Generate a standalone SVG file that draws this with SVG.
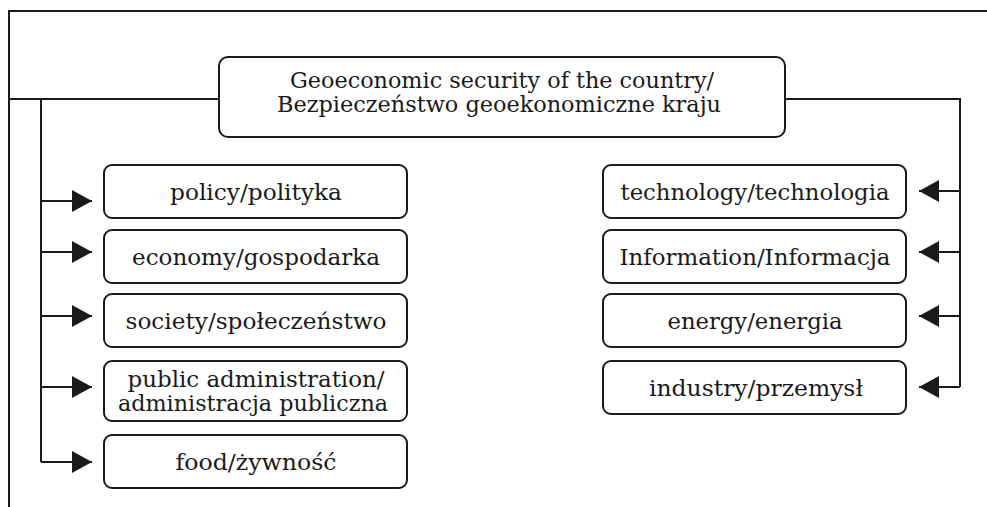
<svg xmlns="http://www.w3.org/2000/svg" width="987" height="507" viewBox="0 0 987 507">
<defs>
<style>
.box{fill:#fff;stroke:#1a1a1a;stroke-width:2}
.ln{fill:none;stroke:#1a1a1a;stroke-width:2}
.t{font-family:"DejaVu Serif","Liberation Serif",serif;font-size:22px;fill:#1a1a1a;text-anchor:middle}
</style>
<marker id="ah" markerUnits="userSpaceOnUse" markerWidth="20" markerHeight="22" refX="20" refY="11" orient="auto" viewBox="0 0 20 22">
<path d="M0,0 L20,11 L0,22 z" fill="#1a1a1a"/>
</marker>
</defs>
<rect width="987" height="507" fill="#fff"/>
<g id="connectors">
<path class="ln" d="M987,11 H9 V507"/>
<path class="ln" d="M9,99 H219"/>
<path class="ln" d="M785,99 H960 V387"/>
<path class="ln" d="M41,99 V462"/>
<path class="ln" d="M41,201 H92" marker-end="url(#ah)"/>
<path class="ln" d="M41,252 H92" marker-end="url(#ah)"/>
<path class="ln" d="M41,316 H92" marker-end="url(#ah)"/>
<path class="ln" d="M41,387 H92" marker-end="url(#ah)"/>
<path class="ln" d="M41,462 H92" marker-end="url(#ah)"/>
<path class="ln" d="M960,191 H919" marker-end="url(#ah)"/>
<path class="ln" d="M960,252 H919" marker-end="url(#ah)"/>
<path class="ln" d="M960,316 H919" marker-end="url(#ah)"/>
<path class="ln" d="M960,387 H919" marker-end="url(#ah)"/>
</g>
<g id="main">
<rect class="box" x="219" y="57" width="566" height="80" rx="9"/>
<text class="t" x="502" y="88" textLength="424" lengthAdjust="spacingAndGlyphs">Geoeconomic security of the country/</text>
<text class="t" x="499" y="112" textLength="444" lengthAdjust="spacingAndGlyphs">Bezpieczeństwo geoekonomiczne kraju</text>
</g>
<g id="policy">
<rect class="box" x="104" y="165" width="303" height="53" rx="8"/>
<text class="t" x="256" y="200" textLength="172" lengthAdjust="spacingAndGlyphs">policy/polityka</text>
</g>
<g id="economy">
<rect class="box" x="104" y="230" width="303" height="53" rx="8"/>
<text class="t" x="256" y="265" textLength="248" lengthAdjust="spacingAndGlyphs">economy/gospodarka</text>
</g>
<g id="society">
<rect class="box" x="104" y="294" width="303" height="53" rx="8"/>
<text class="t" x="256" y="329" textLength="261" lengthAdjust="spacingAndGlyphs">society/społeczeństwo</text>
</g>
<g id="public">
<rect class="box" x="104" y="361" width="303" height="60" rx="8"/>
<text class="t" x="256" y="387" textLength="257" lengthAdjust="spacingAndGlyphs">public administration/</text>
<text class="t" x="253" y="411" textLength="270" lengthAdjust="spacingAndGlyphs">administracja publiczna</text>
</g>
<g id="food">
<rect class="box" x="104" y="435" width="303" height="53" rx="8"/>
<text class="t" x="256" y="470" textLength="161" lengthAdjust="spacingAndGlyphs">food/żywność</text>
</g>
<g id="technology">
<rect class="box" x="603" y="165" width="303" height="53" rx="8"/>
<text class="t" x="755" y="200" textLength="269" lengthAdjust="spacingAndGlyphs">technology/technologia</text>
</g>
<g id="information">
<rect class="box" x="603" y="230" width="303" height="53" rx="8"/>
<text class="t" x="755" y="265" textLength="271" lengthAdjust="spacingAndGlyphs">Information/Informacja</text>
</g>
<g id="energy">
<rect class="box" x="603" y="294" width="303" height="53" rx="8"/>
<text class="t" x="755" y="329" textLength="175" lengthAdjust="spacingAndGlyphs">energy/energia</text>
</g>
<g id="industry">
<rect class="box" x="603" y="361" width="303" height="53" rx="8"/>
<text class="t" x="756" y="396" textLength="214" lengthAdjust="spacingAndGlyphs">industry/przemysł</text>
</g>
</svg>
